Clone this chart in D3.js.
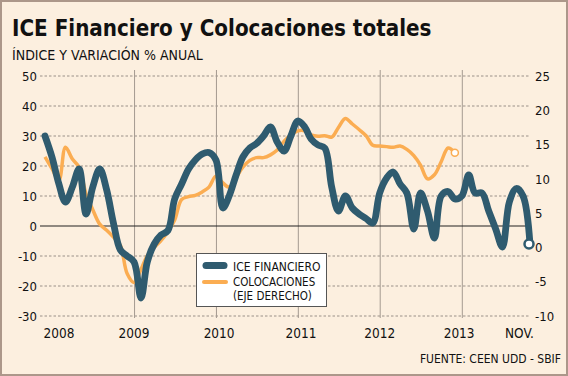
<!DOCTYPE html>
<html>
<head>
<meta charset="utf-8">
<script src="https://cdn.jsdelivr.net/npm/d3@7/dist/d3.min.js"></script>
<style>
    body { margin: 0; background: #fff; }
    svg text { font-family: "DejaVu Sans Condensed", "DejaVu Sans", sans-serif; font-stretch: condensed; fill: #111; }
</style>
</head>
<body>
<div id="chart"></div>
<script>
// Monthly series, first point is Dec 2007
const firstMonth = new Date(2007, 11, 1);

// ICE Financiero (left axis), Dec 2007 .. Nov 2013
const iceValues = [
    30, 23, 14, 8, 13, 19, 4, 13, 19, 12, 1, -8,
    -10, -12, -24, -12, -6, -3, -1.5, 9, 14, 19, 22, 24,
    24.5, 22, 6, 10, 17, 23, 26, 27.5, 30, 33, 28, 25,
    30, 35, 33, 29, 27, 26, 13, 5, 10, 6, 4, 2.5,
    1, 11, 16, 18, 14, 11, -1, 11, 5, -4, 10, 11.5,
    9, 10, 17, 11, 11, 5, -1, -7, 8, 12.5, 10, -6
];

// Colocaciones totales (right axis), Dec 2007 .. Dec 2012
const colocValues = [
    13.2, 11.5, 9.8, 14.6, 12.9, 11.7, 7.8, 5.5, 3.4, 2.5, 1.5, 0.3,
    -3.8, -5.1, -3.2, -1.2, 0, 1, 2.3, 4, 7, 7.4, 7.6, 8.1,
    8.8, 10.4, 9.4, 8.8, 10.2, 11.7, 12.7, 13.1, 13.1, 13.5, 14.2, 15.5,
    16.4, 17, 17, 16.4, 16.2, 16.3, 16.1, 17.5, 18.8, 18, 17.2, 16.3,
    14.9, 14.8, 14.7, 14.6, 14.8, 14.3, 13.4, 12, 10, 10.6, 12.5, 14.5,
    13.8
];

const leftTicks = [50, 40, 30, 20, 10, 0, -10, -20, -30];
const rightTicks = [25, 20, 15, 10, 5, 0, -5, -10];
const yearLines = [2009, 2010, 2011, 2012, 2013];
const xLabels = ["2008", "2009", "2010", "2011", "2012", "2013", "NOV."];
const xLabelDates = [
    new Date(2008, 1, 1), new Date(2009, 0, 1), new Date(2010, 0, 15), new Date(2011, 0, 15),
    new Date(2012, 0, 1), new Date(2012, 11, 20), new Date(2013, 8, 15)
];

const width = 568;
const height = 376;

const monthOf = i => d3.timeMonth.offset(firstMonth, i);
const iceData = iceValues.map((v, i) => ({ date: monthOf(i), value: v }));
const colocData = colocValues.map((v, i) => ({ date: monthOf(i), value: v }));

const svg = d3.select("#chart")
    .append("svg")
    .attr("width", width)
    .attr("height", height);

// background and frame
svg.append("rect")
    .attr("x", 1).attr("y", 1)
    .attr("width", width - 2).attr("height", height - 2)
    .attr("fill", "#fcefdf")
    .attr("stroke", "#ac978a")
    .attr("stroke-width", 2);

// scales
const x = d3.scaleTime()
    .domain([firstMonth, monthOf(iceValues.length - 1)])
    .range([45, 530]);
const yLeft = d3.scaleLinear().domain([-30, 50]).range([316, 76]);
const yRight = d3.scaleLinear().domain([-10, 25]).range([316, 76]);

// title
svg.append("text")
    .attr("x", 12).attr("y", 36)
    .style("font-size", "22.2px")
    .style("font-weight", "bold")
    .text("ICE Financiero y Colocaciones totales");

svg.append("text")
    .attr("x", 12).attr("y", 60)
    .style("font-size", "14px")
    .text("ÍNDICE Y VARIACIÓN % ANUAL");

// horizontal grid (left axis ticks)
svg.append("g")
    .selectAll("line")
    .data(leftTicks.filter(d => d !== 0))
    .enter().append("line")
    .attr("x1", 40).attr("x2", 530)
    .attr("y1", d => yLeft(d)).attr("y2", d => yLeft(d))
    .attr("stroke", "#9a9088")
    .attr("stroke-width", 1)
    .attr("stroke-dasharray", "2.5,2");

// vertical year lines
svg.append("g")
    .selectAll("line")
    .data(yearLines)
    .enter().append("line")
    .attr("x1", d => x(new Date(d, 0, 1)) + 0.5)
    .attr("x2", d => x(new Date(d, 0, 1)) + 0.5)
    .attr("y1", 70).attr("y2", 318)
    .attr("stroke", "#a49a90")
    .attr("stroke-width", 1);

// zero line
svg.append("line")
    .attr("x1", 40).attr("x2", 530)
    .attr("y1", yLeft(0)).attr("y2", yLeft(0))
    .attr("stroke", "#222")
    .attr("stroke-width", 1.2);

// left axis labels
svg.append("g")
    .selectAll("text")
    .data(leftTicks)
    .enter().append("text")
    .attr("x", 37)
    .attr("y", d => yLeft(d))
    .attr("dy", "0.36em")
    .attr("text-anchor", "end")
    .style("font-size", "13px")
    .text(d => d);

// right axis labels
svg.append("g")
    .selectAll("text")
    .data(rightTicks)
    .enter().append("text")
    .attr("x", 535)
    .attr("y", d => yRight(d))
    .attr("dy", "0.36em")
    .style("font-size", "13px")
    .text(d => d);

// x labels
svg.append("g")
    .selectAll("text")
    .data(xLabels)
    .enter().append("text")
    .attr("x", (d, i) => x(xLabelDates[i]))
    .attr("y", 338)
    .attr("text-anchor", "middle")
    .style("font-size", "13.5px")
    .text(d => d);

// lines
const lineLeft = d3.line()
    .x(d => x(d.date))
    .y(d => yLeft(d.value))
    .curve(d3.curveCatmullRom.alpha(0.5));

const lineRight = d3.line()
    .x(d => x(d.date))
    .y(d => yRight(d.value))
    .curve(d3.curveCatmullRom.alpha(0.5));

svg.append("path")
    .datum(colocData)
    .attr("d", lineRight)
    .attr("fill", "none")
    .attr("stroke", "#fbad52")
    .attr("stroke-width", 3.5)
    .attr("stroke-linejoin", "round");

svg.append("path")
    .datum(iceData)
    .attr("d", lineLeft)
    .attr("fill", "none")
    .attr("stroke", "#2f5b6f")
    .attr("stroke-width", 6.8)
    .attr("stroke-linejoin", "round")
    .attr("stroke-linecap", "round");

// end markers
const lastColoc = colocData[colocData.length - 1];
svg.append("circle")
    .attr("cx", x(lastColoc.date))
    .attr("cy", yRight(lastColoc.value))
    .attr("r", 3.5)
    .attr("fill", "#fff")
    .attr("stroke", "#fbad52")
    .attr("stroke-width", 1.5);

const lastIce = iceData[iceData.length - 1];
svg.append("circle")
    .attr("cx", x(lastIce.date) - 1)
    .attr("cy", yLeft(lastIce.value))
    .attr("r", 4.5)
    .attr("fill", "#fff")
    .attr("stroke", "#2f5b6f")
    .attr("stroke-width", 2.5);

// legend
const legend = svg.append("g");
legend.append("rect")
    .attr("x", 196.5).attr("y", 253.5)
    .attr("width", 130).attr("height", 53)
    .attr("fill", "#fff")
    .attr("stroke", "#555")
    .attr("stroke-width", 1);

legend.append("line")
    .attr("x1", 206).attr("x2", 224)
    .attr("y1", 265.5).attr("y2", 265.5)
    .attr("stroke", "#2f5b6f")
    .attr("stroke-width", 7)
    .attr("stroke-linecap", "round");

legend.append("line")
    .attr("x1", 204).attr("x2", 226)
    .attr("y1", 282).attr("y2", 282)
    .attr("stroke", "#fbad52")
    .attr("stroke-width", 4)
    .attr("stroke-linecap", "round");

legend.append("text")
    .attr("x", 233).attr("y", 270.5)
    .style("font-size", "12px")
    .text("ICE FINANCIERO");

legend.append("text")
    .attr("x", 233).attr("y", 286)
    .style("font-size", "11.5px")
    .text("COLOCACIONES");

legend.append("text")
    .attr("x", 233).attr("y", 299.5)
    .style("font-size", "11.5px")
    .text("(EJE DERECHO)");

// source
svg.append("text")
    .attr("x", 561).attr("y", 363)
    .attr("text-anchor", "end")
    .style("font-size", "12px")
    .text("FUENTE: CEEN UDD - SBIF");
</script>
</body>
</html>
